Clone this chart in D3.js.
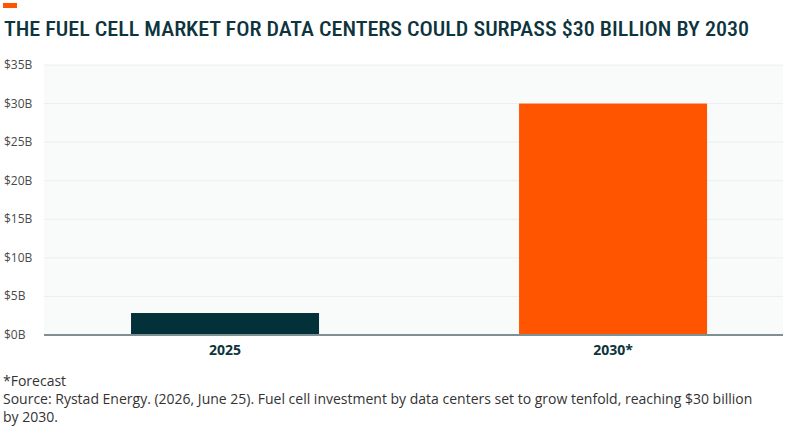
<!DOCTYPE html>
<html>
<head>
<meta charset="utf-8">
<script src="https://cdn.jsdelivr.net/npm/d3@7"></script>
<style>
  body { margin: 0; background: #fff; }
  text { font-family: "Open Sans", Lato, sans-serif; }
</style>
</head>
<body>
<svg id="chart" width="801" height="430"></svg>
<script>
var categories = ["2025", "2030*"];
var values = [2.85, 30];
var colors = ["#02313a", "#ff5500"];
var yTicks = [0, 5, 10, 15, 20, 25, 30, 35];

var svg = d3.select("#chart");
var plotLeft = 44, plotRight = 783, plotTop = 65, plotBottom = 335;

var x = d3.scaleBand().domain(categories).range([plotLeft, plotRight])
  .paddingInner(0.5155).paddingOuter(0.21).align(0.534);
var y = d3.scaleLinear().domain([0, 35]).range([plotBottom, plotTop]);

// accent mark + title
svg.append("rect").attr("x", 3).attr("y", 3).attr("width", 14).attr("height", 5).attr("fill", "#ff5500");
svg.append("text").attr("x", 4).attr("y", 36)
  .style("font-family", "'Roboto Condensed', Roboto, sans-serif")
  .style("font-size", "21px").style("font-weight", "500").attr("fill", "#0e343d")
  .attr("textLength", 745).attr("lengthAdjust", "spacingAndGlyphs")
  .text("THE FUEL CELL MARKET FOR DATA CENTERS COULD SURPASS $30 BILLION BY 2030");

svg.append("rect").attr("x", plotLeft).attr("y", plotTop).attr("width", plotRight - plotLeft)
  .attr("height", plotBottom - plotTop).attr("fill", "#f9fafa");

svg.selectAll(".grid").data(yTicks.slice(1)).enter().append("line")
  .attr("x1", plotLeft).attr("x2", plotRight)
  .attr("y1", d => y(d)).attr("y2", d => y(d))
  .attr("stroke", "#eceeee").attr("stroke-width", 1);

svg.selectAll(".ylab").data(yTicks).enter().append("text")
  .attr("x", 4).attr("y", d => y(d) + 4)
  .style("font-size", "12px").attr("fill", "#4a4a4a")
  .text(d => "$" + d + "B");

svg.selectAll(".bar").data(values).enter().append("rect")
  .attr("x", (d, i) => x(categories[i])).attr("width", x.bandwidth())
  .attr("y", d => y(d)).attr("height", d => y(0) - y(d))
  .attr("fill", (d, i) => colors[i]);

svg.append("line").attr("x1", plotLeft).attr("x2", plotRight)
  .attr("y1", plotBottom).attr("y2", plotBottom).attr("stroke", "#7f8f92").attr("stroke-width", 2);

svg.selectAll(".xlab").data(categories).enter().append("text")
  .attr("x", d => x(d) + x.bandwidth() / 2).attr("y", 355)
  .attr("text-anchor", "middle").style("font-size", "14px").style("font-weight", "700")
  .attr("fill", "#0e343d").text(d => d);

var notes = ["*Forecast",
  "Source: Rystad Energy. (2026, June 25). Fuel cell investment by data centers set to grow tenfold, reaching $30 billion",
  "by 2030."];
svg.selectAll(".note").data(notes).enter().append("text")
  .attr("x", 3).attr("y", (d, i) => 386 + i * 18)
  .style("font-size", "14px").attr("fill", "#333").text(d => d);
</script>
</body>
</html>
